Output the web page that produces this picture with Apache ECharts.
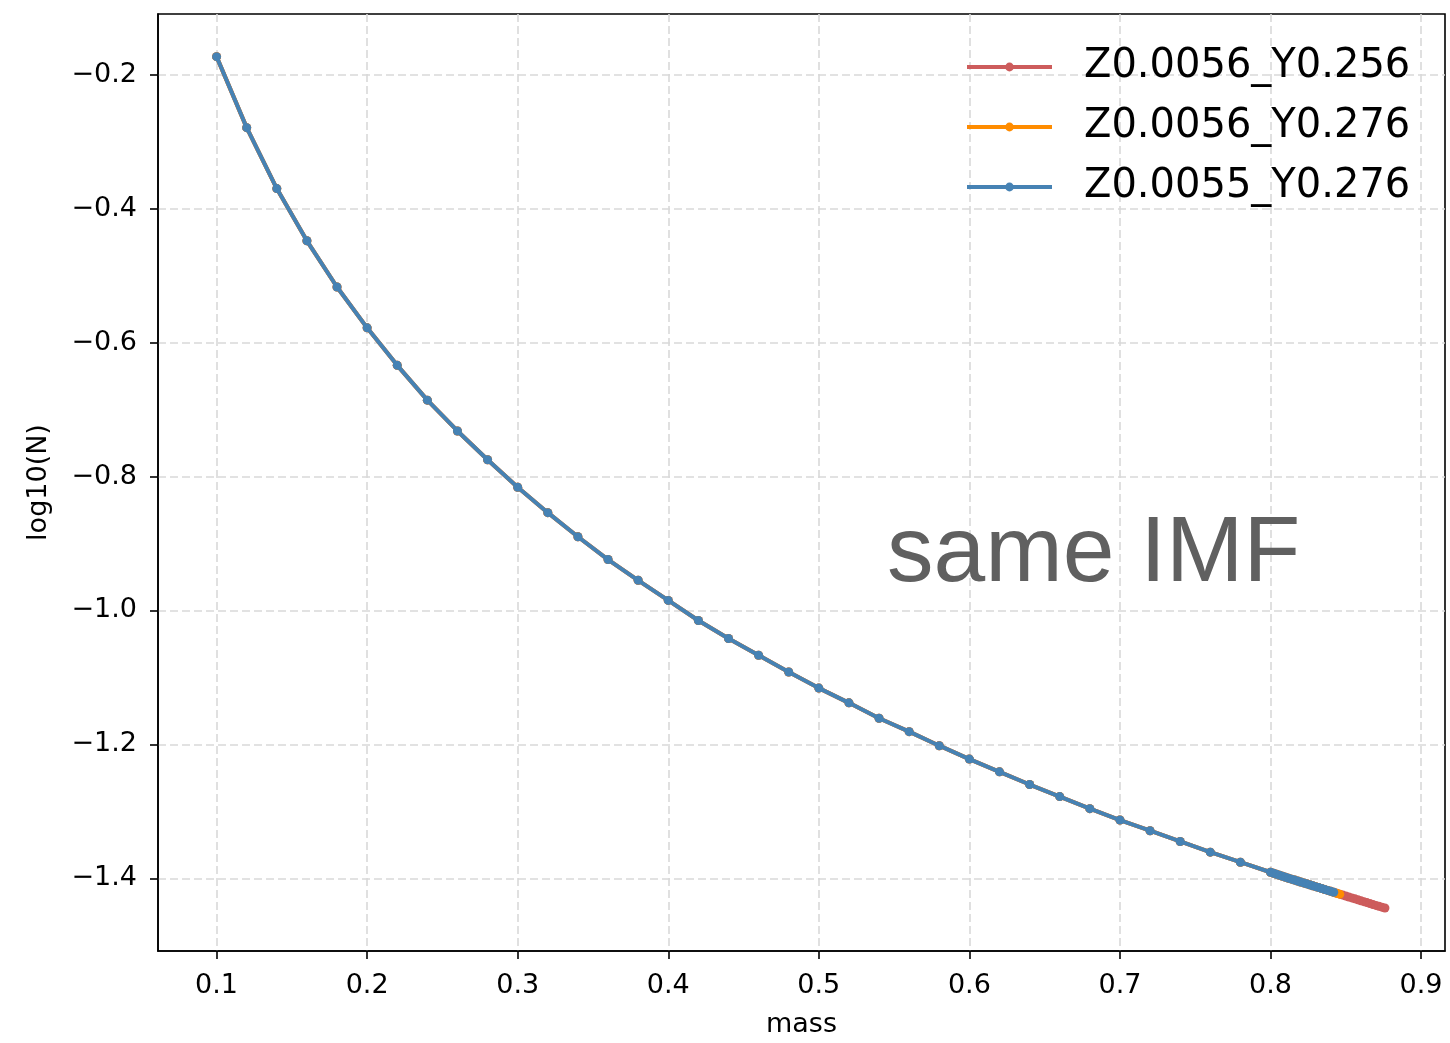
<!DOCTYPE html>
<html>
<head>
<meta charset="utf-8">
<style>
  html, body { margin: 0; padding: 0; background: #fff; }
  #chart { width: 1450px; height: 1043px; }
</style>
<script src="https://cdn.jsdelivr.net/npm/echarts@6/dist/echarts.min.js"></script>
</head>
<body>
<div id="chart"></div>
<script>
// Stellar mass grid shared by all three models (0.1 .. 0.78 in 0.02 steps)
const massMain = [0.10, 0.12, 0.14, 0.16, 0.18, 0.20, 0.22, 0.24, 0.26, 0.28,
  0.30, 0.32, 0.34, 0.36, 0.38, 0.40, 0.42, 0.44, 0.46, 0.48,
  0.50, 0.52, 0.54, 0.56, 0.58, 0.60, 0.62, 0.64, 0.66, 0.68,
  0.70, 0.72, 0.74, 0.76, 0.78];
const logNMain = [-0.173, -0.279, -0.370, -0.448, -0.517, -0.578, -0.634, -0.686, -0.732, -0.775,
  -0.816, -0.854, -0.890, -0.924, -0.955, -0.985, -1.015, -1.042, -1.067, -1.092,
  -1.116, -1.138, -1.161, -1.181, -1.202, -1.222, -1.241, -1.260, -1.278, -1.296,
  -1.313, -1.329, -1.345, -1.361, -1.376];

// Finer sampling from 0.8 upward
const massTail = [0.800, 0.802, 0.804, 0.806, 0.808, 0.810, 0.812, 0.814, 0.816, 0.818,
  0.820, 0.822, 0.824, 0.826, 0.828, 0.830, 0.832, 0.834, 0.836, 0.838,
  0.840, 0.842, 0.844, 0.846, 0.848, 0.850, 0.852, 0.854, 0.856, 0.858,
  0.860, 0.862, 0.864, 0.866, 0.868, 0.870, 0.872, 0.874, 0.876];
const logNTail = [-1.3910, -1.3925, -1.3940, -1.3955, -1.3970, -1.3984, -1.3999, -1.4013, -1.4027, -1.4041,
  -1.4055, -1.4069, -1.4083, -1.4097, -1.4111, -1.4125, -1.4139, -1.4153, -1.4167, -1.4181,
  -1.4195, -1.4209, -1.4223, -1.4237, -1.4251, -1.4265, -1.4279, -1.4293, -1.4307, -1.4321,
  -1.4335, -1.4349, -1.4363, -1.4377, -1.4391, -1.4405, -1.4418, -1.4431, -1.4444];

// Model names, colours and the highest mass each track reaches
const seriesNames = ['Z0.0056_Y0.256', 'Z0.0056_Y0.276', 'Z0.0055_Y0.276'];
const seriesColors = ['#cd5c5c', '#ff8c00', '#4682b4'];
const seriesMaxMass = [0.876, 0.846, 0.842];

const xTicks = [0.1, 0.2, 0.3, 0.4, 0.5, 0.6, 0.7, 0.8, 0.9];
const yTicks = [-1.4, -1.2, -1.0, -0.8, -0.6, -0.4, -0.2];

function pointsUpTo(maxMass) {
  const pts = [];
  massMain.forEach((m, i) => pts.push([m, logNMain[i]]));
  massTail.forEach((m, i) => { if (m <= maxMass + 1e-9) pts.push([m, logNTail[i]]); });
  return pts;
}

const FONT = 'DejaVu Sans';
const gridDash = { color: '#d9d9d9', width: 1.6, type: [8, 4] };

const series = seriesNames.map((name, k) => ({
  name: name,
  type: 'line',
  data: pointsUpTo(seriesMaxMass[k]),
  symbol: 'circle',
  symbolSize: 9,
  showSymbol: true,
  animation: false,
  z: 2 + k,
  lineStyle: { color: seriesColors[k], width: 4 },
  itemStyle: { color: seriesColors[k] }
}));

const chart = echarts.init(document.getElementById('chart'), null, { renderer: 'canvas' });
chart.setOption({
  animation: false,
  backgroundColor: '#fff',
  grid: {
    left: 158, right: 5, top: 14, bottom: 88,
    show: true, borderColor: '#000', borderWidth: 1.6, backgroundColor: 'transparent'
  },
  xAxis: {
    type: 'value',
    min: 0.0611, max: 0.9159,
    name: 'mass', nameLocation: 'middle', nameGap: 60,
    nameTextStyle: { fontFamily: FONT, fontSize: 27, color: '#000' },
    axisLine: { show: true, onZero: false, lineStyle: { color: '#000', width: 1.6 } },
    axisTick: { show: true, length: 8, customValues: xTicks, lineStyle: { color: '#000', width: 1.6 } },
    axisLabel: {
      customValues: xTicks, margin: 21, fontFamily: FONT, fontSize: 27, color: '#000',
      formatter: v => v.toFixed(1)
    },
    splitLine: { show: true, lineStyle: gridDash }
  },
  yAxis: {
    type: 'value',
    min: -1.5086, max: -0.1093,
    name: 'log10(N)', nameLocation: 'middle', nameGap: 106, nameRotate: 90,
    nameTextStyle: { fontFamily: FONT, fontSize: 27, color: '#000' },
    axisLine: { show: true, onZero: false, lineStyle: { color: '#000', width: 1.6 } },
    axisTick: { show: true, length: 8, customValues: yTicks, lineStyle: { color: '#000', width: 1.6 } },
    axisLabel: {
      customValues: yTicks, margin: 21, fontFamily: FONT, fontSize: 27, color: '#000',
      formatter: v => (v < 0 ? '\u2212' : '') + Math.abs(v).toFixed(1)
    },
    splitLine: { show: true, lineStyle: gridDash }
  },
  legend: {
    data: seriesNames,
    orient: 'vertical',
    left: 965, top: 44,
    padding: 0,
    itemWidth: 85, itemHeight: 11, itemGap: 14,
    lineStyle: { width: 4 },
    textStyle: { fontFamily: FONT, fontSize: 40, color: '#000', lineHeight: 46, padding: [0, 0, 0, 27] },
    selectedMode: false
  },
  graphic: [{
    type: 'text',
    left: 887, top: 509,
    z: 10,
    style: {
      text: 'same IMF',
      font: '93px "Liberation Sans"',
      fill: '#606060'
    }
  }],
  series: series
});
</script>
</body>
</html>
